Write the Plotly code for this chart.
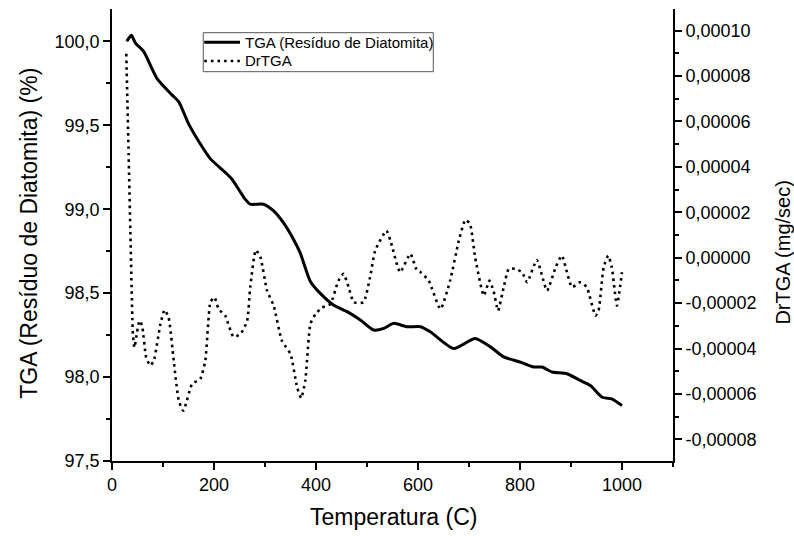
import plotly.graph_objects as go

# ---------------- data ----------------
tga_temp = [29, 38, 46, 62, 88, 118, 131, 150, 173, 193, 222, 235, 261, 271, 297,
            317, 336, 356, 369, 389, 408, 434, 461, 487, 513, 533, 552, 578, 605,
            624, 670, 712, 742, 768, 800, 827, 843, 863, 892, 918, 938, 961, 980, 1000]
tga_val = [100.00, 100.036, 99.99, 99.94, 99.78, 99.68, 99.64, 99.51, 99.39, 99.30,
           99.22, 99.18, 99.06, 99.03, 99.03, 98.99, 98.92, 98.82, 98.74, 98.57,
           98.50, 98.43, 98.39, 98.34, 98.28, 98.29, 98.32, 98.30, 98.30, 98.27,
           98.17, 98.23, 98.18, 98.12, 98.09, 98.06, 98.06, 98.03, 98.02, 97.98,
           97.95, 97.88, 97.87, 97.83]

dr_temp = [28, 32.6, 37, 41, 44, 49, 54, 59, 67, 75, 82, 95, 103, 111, 121, 131, 140,
           157, 173, 183, 193, 201, 209, 222, 238, 252, 265, 271, 282, 291, 304, 317,
           333, 350, 363, 371, 379, 389, 399, 412, 428, 444, 454, 464, 474, 493, 506,
           516, 538, 546, 565, 585, 598, 605, 621, 644, 663, 680, 693, 702, 712, 729,
           740, 748, 757, 768, 778, 791, 804, 814, 833, 853, 870, 882, 902, 918, 931,
           948, 954, 964, 973, 980, 990, 1000]
dr_val = [8.98e-5, 4.57e-5, 0.17e-5, -3.36e-5, -3.95e-5, -3.3e-5, -2.77e-5, -2.99e-5,
          -4.39e-5, -4.75e-5, -4.53e-5, -2.92e-5, -2.30e-5, -2.63e-5, -4.53e-5,
          -6.30e-5, -6.74e-5, -5.56e-5, -5.34e-5, -4.53e-5, -1.96e-5, -1.74e-5,
          -2.26e-5, -2.55e-5, -3.48e-5, -3.36e-5, -2.77e-5, -1.30e-5, 0.34e-5,
          0.02e-5, -1.45e-5, -2.11e-5, -3.65e-5, -4.24e-5, -5.71e-5, -6.18e-5,
          -5.41e-5, -2.92e-5, -2.48e-5, -2.19e-5, -2.04e-5, -1.01e-5, -0.71e-5,
          -1.30e-5, -1.96e-5, -1.96e-5, -0.86e-5, 0.31e-5, 1.19e-5, 0.75e-5,
          -0.64e-5, 0.17e-5, -0.57e-5, -0.64e-5, -1.01e-5, -2.26e-5, -1.01e-5,
          0.75e-5, 1.67e-5, 1.49e-5, 0.02e-5, -1.67e-5, -1.01e-5, -1.45e-5,
          -2.33e-5, -1.30e-5, -0.49e-5, -0.49e-5, -0.64e-5, -1.08e-5, -0.10e-5,
          -1.45e-5, -0.42e-5, 0.09e-5, -1.30e-5, -1.08e-5, -1.30e-5, -2.55e-5,
          -2.33e-5, -0.42e-5, 0.09e-5, -0.42e-5, -2.11e-5, -0.64e-5]

series_names = ["TGA (Resíduo de Diatomita)", "DrTGA"]

x_tickvals = [0, 200, 400, 600, 800, 1000]
x_ticktext = ["0", "200", "400", "600", "800", "1000"]
y1_tickvals = [97.5, 98.0, 98.5, 99.0, 99.5, 100.0]
y1_ticktext = ["97,5", "98,0", "98,5", "99,0", "99,5", "100,0"]
y2_tickvals = [-8e-5, -6e-5, -4e-5, -2e-5, 0, 2e-5, 4e-5, 6e-5, 8e-5, 10e-5]
y2_ticktext = ["-0,00008", "-0,00006", "-0,00004", "-0,00002", "0,00000",
               "0,00002", "0,00004", "0,00006", "0,00008", "0,00010"]

FONT = "Liberation Sans, Arial, sans-serif"
DOTS = "2.6px,4px"

fig = go.Figure()
fig.add_trace(go.Scatter(x=tga_temp, y=tga_val, mode="lines", name=series_names[0],
                         line=dict(color="black", width=3, shape="spline", smoothing=0.6),
                         yaxis="y", xaxis="x", showlegend=False))
fig.add_trace(go.Scatter(x=dr_temp, y=dr_val, mode="lines", name=series_names[1],
                         line=dict(color="black", width=2.6, dash=DOTS,
                                   shape="spline", smoothing=0.5),
                         yaxis="y2", xaxis="x", showlegend=False))

axis_common = dict(showline=True, linecolor="black", linewidth=1.6, showgrid=False,
                   zeroline=False, tickcolor="black", tickwidth=1.6,
                   tickfont=dict(family=FONT, size=18, color="black"))

# ---- legend drawn as a framed box (paper coordinates) ----
leg_x0, leg_x1, leg_y0, leg_y1 = 0.1627, 0.5727, 0.8613, 0.9476
leg_line_x0, leg_line_x1, leg_text_x = 0.1645, 0.2282, 0.2330
leg_row_y = [0.9263, 0.8850]

shapes = [
    dict(type="rect", xref="paper", yref="paper", x0=leg_x0, x1=leg_x1, y0=leg_y0, y1=leg_y1,
         line=dict(color="#555", width=1), fillcolor="white", layer="above"),
    dict(type="line", xref="paper", yref="paper", x0=leg_line_x0, x1=leg_line_x1,
         y0=leg_row_y[0], y1=leg_row_y[0], line=dict(color="black", width=3), layer="above"),
    dict(type="line", xref="paper", yref="paper", x0=leg_line_x0, x1=leg_line_x1,
         y0=leg_row_y[1], y1=leg_row_y[1], line=dict(color="black", width=2.6, dash=DOTS),
         layer="above"),
]

annotations = [
    dict(text=series_names[0], xref="paper", yref="paper", x=leg_text_x, y=leg_row_y[0],
         xanchor="left", yanchor="middle", showarrow=False,
         font=dict(family=FONT, size=15, color="black")),
    dict(text=series_names[1], xref="paper", yref="paper", x=leg_text_x, y=leg_row_y[1],
         xanchor="left", yanchor="middle", showarrow=False,
         font=dict(family=FONT, size=15, color="black")),
    dict(text="Temperatura (C)", xref="paper", yref="paper", x=0.5017, y=-0.1233,
         xanchor="center", yanchor="middle", showarrow=False,
         font=dict(family=FONT, size=23, color="black")),
    dict(text="TGA (Resíduo de Diatomita) (%)", xref="paper", yref="paper",
         x=-0.1473, y=0.5037, xanchor="center", yanchor="middle", textangle=-90,
         showarrow=False, font=dict(family=FONT, size=23, color="black")),
    dict(text="DrTGA (mg/sec)", xref="paper", yref="paper",
         x=1.197, y=0.46, xanchor="center", yanchor="middle", textangle=-90,
         showarrow=False, font=dict(family=FONT, size=20, color="black")),
]

fig.update_layout(
    width=794, height=536,
    margin=dict(l=112, r=121, t=9, b=75),
    paper_bgcolor="white", plot_bgcolor="white",
    showlegend=False,
    xaxis=dict(range=[0, 1100], tickvals=x_tickvals, ticktext=x_ticktext,
               ticks="outside", ticklen=7,
               minor=dict(dtick=100, tick0=0, ticks="outside", ticklen=4,
                          tickcolor="black", tickwidth=1.6),
               **axis_common),
    xaxis2=dict(range=[0, 1100], overlaying="x", side="top", anchor="y",
                showticklabels=False, tickvals=x_tickvals, ticks="inside", ticklen=7,
                minor=dict(dtick=100, tick0=0, ticks="inside", ticklen=4,
                           tickcolor="black", tickwidth=1.6),
                **axis_common),
    yaxis=dict(range=[97.5, 100.193], tickvals=y1_tickvals, ticktext=y1_ticktext,
               ticks="outside", ticklen=7,
               minor=dict(dtick=0.25, tick0=97.5, ticks="outside", ticklen=4,
                          tickcolor="black", tickwidth=1.6),
               **axis_common),
    yaxis2=dict(range=[-8.95e-5, 10.95e-5], overlaying="y", side="right", anchor="x",
                tickvals=y2_tickvals, ticktext=y2_ticktext,
                ticks="outside", ticklen=7,
                minor=dict(dtick=1e-5, tick0=0, ticks="outside", ticklen=4,
                           tickcolor="black", tickwidth=1.6),
                **axis_common),
    shapes=shapes,
    annotations=annotations,
)

fig.write_html("out.html")
